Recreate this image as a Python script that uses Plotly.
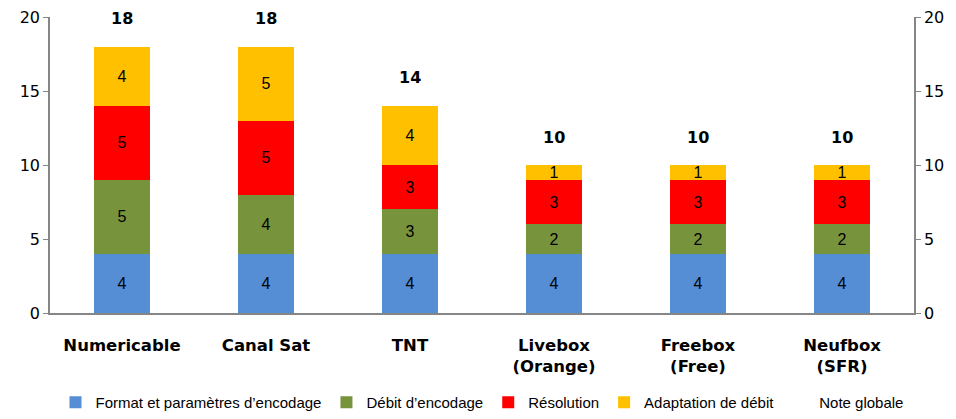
import plotly.graph_objects as go

categories = ["Numericable", "Canal Sat", "TNT", "Livebox<br>(Orange)", "Freebox<br>(Free)", "Neufbox<br>(SFR)"]
format_vals = [4, 4, 4, 4, 4, 4]
debit_vals = [5, 4, 3, 2, 2, 2]
resolution_vals = [5, 5, 3, 3, 3, 3]
adaptation_vals = [4, 5, 4, 1, 1, 1]
note_globale = [18, 18, 14, 10, 10, 10]
y_ticks = [0, 5, 10, 15, 20]

series = [
    ("Format et paramètres d’encodage", format_vals, "#558ED5"),
    ("Débit d’encodage", debit_vals, "#77933C"),
    ("Résolution", resolution_vals, "#FF0000"),
    ("Adaptation de débit", adaptation_vals, "#FFC000"),
]

fig = go.Figure()
for name, vals, color in series:
    fig.add_trace(go.Bar(
        name=name, x=categories, y=vals, marker=dict(color=color, line=dict(width=0)),
        text=[str(v) for v in vals], textposition="inside", insidetextanchor="middle",
        textangle=0, textfont=dict(family="Liberation Sans", size=16, color="black"),
        constraintext="none", hoverinfo="skip",
    ))

# legend-only entry for Note globale (no visible marker)
fig.add_trace(go.Scatter(
    name="Note globale", x=categories, y=note_globale, mode="lines",
    line=dict(color="rgba(0,0,0,0)", width=0), hoverinfo="skip",
))
# secondary axis trace to show right axis
fig.add_trace(go.Scatter(x=categories, y=note_globale, yaxis="y2", mode="lines",
                         line=dict(color="rgba(0,0,0,0)"), showlegend=False, hoverinfo="skip"))

for c, t in zip(categories, note_globale):
    fig.add_annotation(x=c, y=t, text="<b>%d</b>" % t, showarrow=False, yshift=28,
                       font=dict(family="DejaVu Sans", size=16, color="black"))

axis_common = dict(range=[0, 20], tickvals=y_ticks, showgrid=False, zeroline=False,
                   showline=True, linecolor="#868686", linewidth=1.5,
                   ticks="outside", ticklen=5, tickcolor="#868686", automargin=False,
                   tickfont=dict(family="DejaVu Sans", size=16, color="black"))

fig.update_layout(
    barmode="stack", bargap=0.61,
    width=956, height=419,
    margin=dict(l=50, r=42, t=17, b=106),
    paper_bgcolor="white", plot_bgcolor="white",
    uniformtext=dict(minsize=16, mode="show"),
    xaxis=dict(showline=True, linecolor="#868686", linewidth=1.5, ticks="", automargin=False,
               ticklabelstandoff=16, tickangle=0,
               tickfont=dict(family="DejaVu Sans", size=16.5, color="black"),
               tickprefix="<b>", ticksuffix="</b>"),
    yaxis=dict(**axis_common),
    yaxis2=dict(overlaying="y", side="right", **axis_common),
    legend=dict(orientation="h", x=0.5, xanchor="center",
                yref="container", y=0, yanchor="bottom",
                font=dict(family="Liberation Sans", size=15, color="black"),
                itemwidth=30, traceorder="normal"),
    showlegend=True,
)

fig.write_html("out.html", config={"displayModeBar": False},
               post_script="document.body.style.margin='0';document.body.style.padding='0';")
